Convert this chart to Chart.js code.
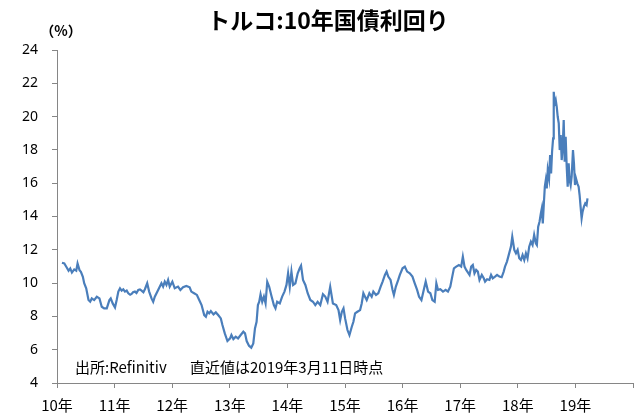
<!DOCTYPE html>
<html>
<head>
<meta charset="utf-8">
<script src="https://cdn.jsdelivr.net/npm/chart.js@4.4.1/dist/chart.umd.min.js"></script>
<style>
    html, body { margin: 0; padding: 0; background: #fff; }
</style>
</head>
<body>
<canvas id="turkey-10y-chart" width="641" height="419"></canvas>
<script>
// position on the time axis (decimal year) and 10y yield in %
const yearPos = [
    2010.086, 2010.127, 2010.161, 2010.201, 2010.230, 2010.259, 2010.299, 2010.334, 2010.357, 2010.391,
    2010.415, 2010.449, 2010.472, 2010.507, 2010.547, 2010.576, 2010.604, 2010.645, 2010.691, 2010.737,
    2010.777, 2010.818, 2010.864, 2010.910, 2010.933, 2010.967, 2011.007, 2011.036, 2011.065, 2011.094,
    2011.123, 2011.151, 2011.180, 2011.210, 2011.238, 2011.270, 2011.295, 2011.320, 2011.353, 2011.380,
    2011.411, 2011.440, 2011.468, 2011.500, 2011.526, 2011.566, 2011.600, 2011.641, 2011.670, 2011.698,
    2011.756, 2011.813, 2011.842, 2011.871, 2011.900, 2011.929, 2011.957, 2012.003, 2012.044, 2012.101,
    2012.142, 2012.188, 2012.245, 2012.303, 2012.332, 2012.380, 2012.429, 2012.469, 2012.510, 2012.556,
    2012.585, 2012.613, 2012.642, 2012.671, 2012.717, 2012.757, 2012.798, 2012.844, 2012.872, 2012.913,
    2012.959, 2013.005, 2013.028, 2013.062, 2013.103, 2013.143, 2013.189, 2013.235, 2013.264, 2013.293,
    2013.333, 2013.373, 2013.408, 2013.437, 2013.465, 2013.488, 2013.511, 2013.534, 2013.563, 2013.592,
    2013.621, 2013.650, 2013.684, 2013.719, 2013.765, 2013.793, 2013.822, 2013.868, 2013.909, 2013.949,
    2013.984, 2014.012, 2014.041, 2014.070, 2014.099, 2014.139, 2014.179, 2014.214, 2014.237, 2014.271,
    2014.312, 2014.352, 2014.398, 2014.444, 2014.484, 2014.525, 2014.571, 2014.617, 2014.657, 2014.697,
    2014.743, 2014.790, 2014.847, 2014.887, 2014.916, 2014.945, 2014.974, 2015.002, 2015.043, 2015.077,
    2015.118, 2015.146, 2015.175, 2015.215, 2015.262, 2015.290, 2015.319, 2015.348, 2015.377, 2015.423,
    2015.463, 2015.492, 2015.538, 2015.578, 2015.619, 2015.653, 2015.693, 2015.722, 2015.751, 2015.791,
    2015.826, 2015.849, 2015.883, 2015.924, 2015.952, 2015.999, 2016.039, 2016.079, 2016.125, 2016.171,
    2016.211, 2016.252, 2016.286, 2016.327, 2016.367, 2016.401, 2016.442, 2016.482, 2016.517, 2016.557,
    2016.586, 2016.615, 2016.655, 2016.701, 2016.747, 2016.787, 2016.828, 2016.862, 2016.891, 2016.931,
    2016.977, 2017.017, 2017.046, 2017.075, 2017.104, 2017.162, 2017.191, 2017.219, 2017.248, 2017.277,
    2017.306, 2017.335, 2017.375, 2017.409, 2017.432, 2017.467, 2017.507, 2017.536, 2017.565, 2017.605,
    2017.640, 2017.680, 2017.720, 2017.755, 2017.778, 2017.812, 2017.835, 2017.858, 2017.881, 2017.904,
    2017.922, 2017.939, 2017.968, 2017.997, 2018.025, 2018.054, 2018.083, 2018.112, 2018.141, 2018.169,
    2018.198, 2018.227, 2018.256, 2018.284, 2018.313, 2018.331, 2018.354, 2018.377, 2018.400, 2018.417,
    2018.434, 2018.451, 2018.469, 2018.486, 2018.503, 2018.520, 2018.543, 2018.561, 2018.578, 2018.595,
    2018.613, 2018.624, 2018.641, 2018.659, 2018.676, 2018.693, 2018.711, 2018.728, 2018.745, 2018.762,
    2018.780, 2018.797, 2018.814, 2018.831, 2018.849, 2018.866, 2018.883, 2018.900, 2018.918, 2018.935,
    2018.958, 2018.975, 2018.993, 2019.010, 2019.033, 2019.056, 2019.073, 2019.090, 2019.108, 2019.125,
    2019.148, 2019.171, 2019.194, 2019.210
];

const yieldPct = [
    11.22, 11.18, 10.98, 10.74, 10.88, 10.63, 10.82, 10.74, 11.18, 10.78,
    10.68, 10.38, 9.99, 9.69, 8.98, 8.88, 9.08, 8.98, 9.18, 9.08,
    8.58, 8.48, 8.48, 8.98, 9.08, 8.78, 8.54, 8.98, 9.49, 9.69,
    9.55, 9.63, 9.49, 9.55, 9.39, 9.30, 9.35, 9.45, 9.49, 9.40,
    9.59, 9.62, 9.55, 9.45, 9.63, 9.99, 9.49, 9.08, 8.88, 9.18,
    9.59, 9.99, 9.79, 10.09, 9.89, 10.19, 9.79, 10.09, 9.69, 9.79,
    9.59, 9.75, 9.83, 9.75, 9.49, 9.39, 9.29, 8.99, 8.68, 8.08,
    7.98, 8.28, 8.18, 8.32, 8.12, 8.24, 8.08, 7.88, 7.48, 6.98,
    6.52, 6.68, 6.88, 6.64, 6.78, 6.68, 6.88, 7.08, 6.98, 6.52,
    6.24, 6.12, 6.38, 7.28, 7.68, 8.68, 8.88, 9.33, 8.88, 9.19,
    8.78, 10.08, 9.78, 9.29, 8.68, 8.48, 8.88, 8.78, 9.19, 9.49,
    9.89, 10.59, 9.78, 10.69, 9.89, 9.99, 10.59, 10.89, 11.05, 10.19,
    9.89, 9.39, 8.99, 8.88, 8.68, 8.88, 8.68, 9.33, 9.19, 8.88,
    9.78, 8.78, 8.68, 8.38, 7.78, 8.28, 8.48, 7.88, 7.18, 6.88,
    7.38, 7.68, 8.18, 8.28, 8.38, 8.78, 9.39, 9.18, 8.98, 9.39,
    9.18, 9.49, 9.29, 9.39, 9.79, 10.09, 10.49, 10.69, 10.39, 10.19,
    9.59, 9.29, 9.79, 10.19, 10.49, 10.89, 10.99, 10.69, 10.59, 10.39,
    9.99, 9.59, 9.18, 8.98, 9.59, 10.09, 9.49, 9.39, 8.98, 8.88,
    9.99, 9.59, 9.63, 9.49, 9.59, 9.49, 9.79, 10.39, 10.89, 10.99,
    11.09, 10.99, 11.59, 10.99, 10.79, 10.49, 10.99, 11.09, 10.59, 10.79,
    10.69, 10.19, 10.49, 10.29, 10.09, 10.23, 10.19, 10.49, 10.29, 10.39,
    10.49, 10.39, 10.35, 10.69, 10.99, 11.29, 11.59, 11.89, 12.19, 12.79,
    12.39, 11.99, 11.79, 11.99, 11.49, 11.39, 11.69, 11.39, 11.79, 11.49,
    12.19, 12.49, 12.29, 12.89, 12.39, 12.29, 13.39, 13.69, 14.19, 14.49,
    13.59, 14.69, 15.79, 16.19, 15.69, 16.79, 16.29, 17.69, 16.59, 17.89,
    18.69, 21.49, 20.79, 20.99, 20.59, 19.99, 19.59, 17.99, 18.89, 17.39,
    18.19, 19.79, 17.29, 18.79, 16.99, 15.79, 17.19, 16.19, 15.89, 16.39,
    17.99, 17.19, 15.89, 16.29, 15.99, 15.79, 15.29, 14.59, 13.89, 14.29,
    14.59, 14.79, 14.69, 15.09
];

const yearLabels = ['10年', '11年', '12年', '13年', '14年', '15年', '16年', '17年', '18年', '19年'];
const firstYear = 2010;

const chartTitle = 'トルコ:10年国債利回り';
const unitLabel = '（%）';
const sourceNote = '出所:Refinitiv';
const dateNote = '直近値は2019年3月11日時点';

const jpFont = '"Noto Sans CJK JP", "Noto Sans", sans-serif';

const textOverlay = {
    id: 'textOverlay',
    afterDraw(chart) {
        const c = chart.ctx;
        c.save();
        c.fillStyle = '#000';
        c.textBaseline = 'middle';
        c.textAlign = 'center';
        c.font = 'bold 23px ' + jpFont;
        c.fillText(chartTitle, 328, 20);
        c.font = 'bold 14px ' + jpFont;
        c.fillText(unitLabel, 61, 31);
        c.textAlign = 'left';
        c.font = '15px ' + jpFont;
        c.fillText(sourceNote, 75, 367);
        c.fillText(dateNote, 190, 367);
        c.restore();
    }
};

const ctx = document.getElementById('turkey-10y-chart');

new Chart(ctx, {
    type: 'line',
    data: {
        datasets: [{
            data: yearPos.map((x, i) => ({ x: x, y: yieldPct[i] })),
            borderColor: '#4a7ebb',
            borderWidth: 2.2,
            pointRadius: 0,
            tension: 0,
            fill: false,
        }]
    },
    options: {
        responsive: false,
        animation: false,
        layout: {
            padding: { top: 50, right: 5, left: 0, bottom: 0 }
        },
        plugins: {
            legend: { display: false },
            tooltip: { enabled: false },
        },
        scales: {
            x: {
                type: 'linear',
                min: 2010,
                max: 2020,
                afterFit: (scale) => { scale.height = 36; },
                border: { color: '#868686', width: 1 },
                grid: { drawOnChartArea: false, tickLength: 5, color: '#868686' },
                ticks: {
                    stepSize: 1,
                    maxRotation: 0,
                    padding: 8,
                    color: '#000',
                    font: { family: jpFont, size: 15 },
                    callback: (v) => yearLabels[v - firstYear] || '',
                }
            },
            y: {
                min: 4,
                max: 24,
                afterFit: (scale) => { scale.width = 57; },
                border: { color: '#868686', width: 1 },
                grid: { drawOnChartArea: false, tickLength: 5, color: '#868686' },
                ticks: {
                    stepSize: 2,
                    padding: 14,
                    color: '#000',
                    font: { family: '"Noto Sans", sans-serif', size: 14 },
                }
            }
        }
    },
    plugins: [textOverlay]
});
</script>
</body>
</html>
